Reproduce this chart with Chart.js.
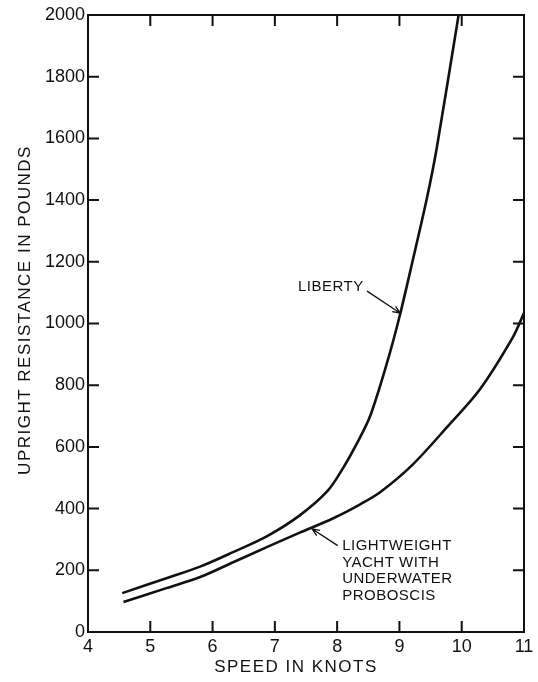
<!DOCTYPE html>
<html>
<head>
<meta charset="utf-8">
<script src="https://cdn.jsdelivr.net/npm/chart.js@4.4.0/dist/chart.umd.min.js"></script>
<style>
    html, body { margin: 0; padding: 0; background: #fff; }
    #wrap { width: 538px; height: 682px; }
</style>
</head>
<body>
<div id="wrap"><canvas id="chart"></canvas></div>
<script>
// Speed (knots) and upright resistance (lb)
const libertySpeed = [4.55, 5.27, 5.8, 6.33, 6.87, 7.4, 7.85, 8.1, 8.32, 8.53, 8.8, 9.0, 9.22, 9.44, 9.6, 9.95];
const libertyLbs   = [126, 175, 212, 259, 310, 378, 458, 533, 612, 700, 872, 1021, 1210, 1405, 1570, 2000];
const yachtSpeed = [4.57, 5.27, 5.8, 6.33, 6.87, 7.4, 7.93, 8.37, 8.69, 9.2, 9.76, 10.29, 10.82, 11.0];
const yachtLbs   = [97, 143, 178, 226, 275, 322, 368, 414, 453, 540, 663, 786, 955, 1034];

// Axis ranges and titles
const xRange = [4, 11];
const yRange = [0, 2000];
const xTitle = 'SPEED IN KNOTS';
const yTitle = 'UPRIGHT RESISTANCE IN POUNDS';

// Labels with arrows, in data units
const notes = [
    { lines: ['LIBERTY'], at: [7.37, 1118], from: [8.48, 1105], to: [9.01, 1034] },
    { lines: ['LIGHTWEIGHT', 'YACHT WITH', 'UNDERWATER', 'PROBOSCIS'], at: [8.08, 279], from: [8.01, 280], to: [7.6, 334] }
];

const ink = '#111';
const fontFamily = '"Liberation Sans", Arial, sans-serif';

function toPoints(xs, ys) {
    return xs.map((v, i) => ({ x: v, y: ys[i] }));
}

// Frame, inward tick marks, titles and arrow notes
const decorations = {
    id: 'decorations',
    afterDraw(chart) {
        const { ctx, chartArea: a, scales: { x, y } } = chart;
        const len = 11;
        ctx.save();
        ctx.strokeStyle = ink;
        ctx.fillStyle = ink;
        ctx.lineWidth = 2;
        ctx.strokeRect(a.left, a.top, a.right - a.left, a.bottom - a.top);

        ctx.beginPath();
        x.ticks.forEach(t => {
            if (t.value <= xRange[0] || t.value >= xRange[1]) return;
            const px = x.getPixelForValue(t.value);
            ctx.moveTo(px, a.bottom); ctx.lineTo(px, a.bottom - len);
            ctx.moveTo(px, a.top); ctx.lineTo(px, a.top + len);
        });
        y.ticks.forEach(t => {
            if (t.value <= yRange[0] || t.value >= yRange[1]) return;
            const py = y.getPixelForValue(t.value);
            ctx.moveTo(a.left, py); ctx.lineTo(a.left + len, py);
            ctx.moveTo(a.right, py); ctx.lineTo(a.right - len, py);
        });
        ctx.stroke();

        // axis titles
        ctx.font = '17px ' + fontFamily;
        ctx.letterSpacing = '1.5px';
        ctx.textAlign = 'center';
        ctx.textBaseline = 'middle';
        ctx.fillText(xTitle, 296, 667);
        ctx.save();
        ctx.translate(25, 310);
        ctx.rotate(-Math.PI / 2);
        ctx.fillText(yTitle, 0, 0);
        ctx.restore();

        // notes
        ctx.font = '15px ' + fontFamily;
        ctx.letterSpacing = '0.5px';
        ctx.textAlign = 'left';
        ctx.lineWidth = 1.3;
        notes.forEach(n => {
            const tx = x.getPixelForValue(n.at[0]);
            const ty = y.getPixelForValue(n.at[1]);
            n.lines.forEach((line, i) => ctx.fillText(line, tx, ty + i * 16.5));

            const x1 = x.getPixelForValue(n.from[0]), y1 = y.getPixelForValue(n.from[1]);
            const x2 = x.getPixelForValue(n.to[0]), y2 = y.getPixelForValue(n.to[1]);
            const ang = Math.atan2(y2 - y1, x2 - x1);
            ctx.beginPath();
            ctx.moveTo(x1, y1); ctx.lineTo(x2, y2);
            ctx.moveTo(x2 - 8 * Math.cos(ang - 0.4), y2 - 8 * Math.sin(ang - 0.4));
            ctx.lineTo(x2, y2);
            ctx.lineTo(x2 - 8 * Math.cos(ang + 0.4), y2 - 8 * Math.sin(ang + 0.4));
            ctx.stroke();
        });
        ctx.restore();
    }
};

const lineStyle = {
    borderColor: ink,
    borderWidth: 2.6,
    pointRadius: 0,
    fill: false,
    tension: 0.3
};

new Chart(document.getElementById('chart'), {
    type: 'line',
    data: {
        datasets: [
            Object.assign({ label: 'Liberty', data: toPoints(libertySpeed, libertyLbs) }, lineStyle),
            Object.assign({ label: 'Lightweight yacht', data: toPoints(yachtSpeed, yachtLbs) }, lineStyle)
        ]
    },
    options: {
        responsive: true,
        maintainAspectRatio: false,
        devicePixelRatio: 1,
        animation: false,
        layout: { padding: { top: 15, right: 14, left: 0, bottom: 0 } },
        plugins: {
            legend: { display: false },
            tooltip: { enabled: false }
        },
        scales: {
            x: {
                type: 'linear',
                min: xRange[0],
                max: xRange[1],
                grid: { display: false, drawTicks: false },
                border: { display: false },
                ticks: {
                    stepSize: 1,
                    color: ink,
                    padding: 4,
                    maxRotation: 0,
                    font: { family: fontFamily, size: 18 }
                },
                afterFit(scale) { scale.height = 50; }
            },
            y: {
                min: yRange[0],
                max: yRange[1],
                grid: { display: false, drawTicks: false },
                border: { display: false },
                ticks: {
                    stepSize: 200,
                    color: ink,
                    padding: 3,
                    font: { family: fontFamily, size: 18 },
                    callback: v => String(v)
                },
                afterFit(scale) { scale.width = 88; }
            }
        }
    },
    plugins: [decorations]
});
</script>
</body>
</html>
